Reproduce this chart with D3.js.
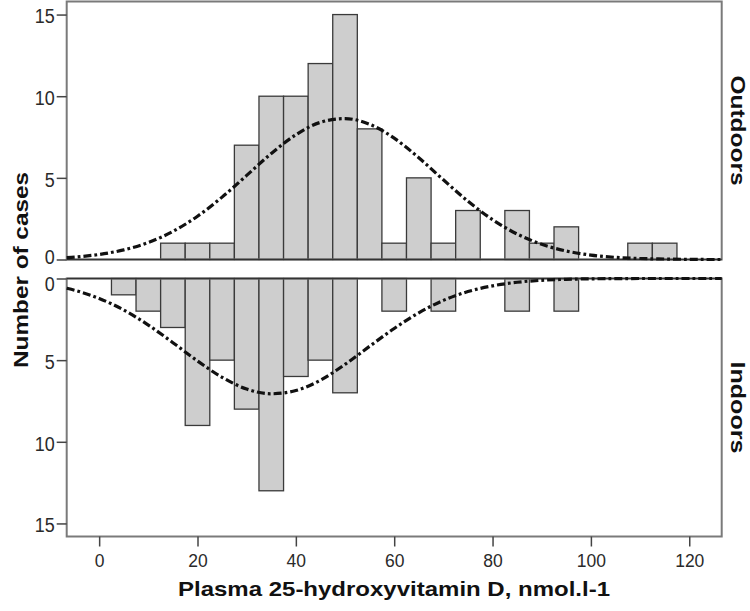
<!DOCTYPE html>
<html>
<head>
<meta charset="utf-8">
<script src="https://cdn.jsdelivr.net/npm/d3@7"></script>
<style>
  html, body { margin: 0; padding: 0; background: #fff; }
  svg { display: block; font-family: "Liberation Sans", Arial, sans-serif; }
</style>
</head>
<body>
<svg id="chart" width="750" height="611"></svg>
<script>
// ---------- data ----------
const binCenters = [5, 10, 15, 20, 25, 30, 35, 40, 45, 50, 55, 60, 65, 70, 75, 80, 85, 90, 95, 100, 105, 110, 115];
const outdoorsCounts = [0, 0, 1, 1, 1, 7, 10, 10, 12, 15, 8, 1, 5, 1, 3, 0, 3, 1, 2, 0, 0, 1, 1];
const indoorsCounts  = [1, 2, 3, 9, 5, 8, 13, 6, 5, 7, 0, 2, 0, 2, 0, 0, 2, 0, 2, 0, 0, 0, 0];
const binWidth = 5;

const curveX = [-6.6, -5, 0, 5, 10, 15, 20, 25, 30, 35, 40, 45, 50, 55, 60, 65, 70, 75, 80, 85, 90, 95, 100, 105, 110, 115, 120, 125, 126.6];
const outdoorsCurve = [0.12, 0.15, 0.31, 0.59, 1.04, 1.72, 2.65, 3.82, 5.15, 6.49, 7.64, 8.40, 8.63, 8.28, 7.43, 6.23, 4.88, 3.57, 2.44, 1.56, 0.93, 0.52, 0.27, 0.13, 0.06, 0.03, 0.01, 0.00, 0.00];
const indoorsCurve  = [0.60, 0.72, 1.22, 1.93, 2.85, 3.93, 5.05, 6.05, 6.77, 7.06, 6.86, 6.23, 5.26, 4.15, 3.06, 2.10, 1.34, 0.80, 0.45, 0.23, 0.11, 0.05, 0.02, 0.01, 0.00, 0.00, 0.00, 0.00, 0.00];

const xTicks = [0, 20, 40, 60, 80, 100, 120];
const yTicks = [0, 5, 10, 15];
const panelLabels = ["Outdoors", "Indoors"];
const xTitle = "Plasma 25-hydroxyvitamin D, nmol.l-1";
const yTitle = "Number of cases";

// ---------- layout ----------
const svg = d3.select("#chart");
const left = 66.7, right = 721.7;
const top1 = 1.5, base1 = 259.5;
const base2 = 278.5, bottom2 = 536.5;
const yMax = 15.8;

const x = d3.scaleLinear().domain([-6.6, 126.6]).range([left, right]);
const yTop = d3.scaleLinear().domain([0, yMax]).range([base1, top1]);
const yBot = d3.scaleLinear().domain([0, yMax]).range([base2, bottom2]);

const frameColor = "#7a7a7a";
const barFill = "#cecece";
const barStroke = "#3a3a3a";

function drawPanel(counts, curveVals, y, isTop) {
  const g = svg.append("g");
  const data = binCenters.map((c, i) => ({ c, v: counts[i] })).filter(d => d.v > 0);
  g.selectAll("rect.bar").data(data).enter().append("rect")
    .attr("class", "bar")
    .attr("x", d => x(d.c - binWidth / 2))
    .attr("width", d => x(d.c + binWidth / 2) - x(d.c - binWidth / 2))
    .attr("y", d => Math.min(y(0), y(d.v)))
    .attr("height", d => Math.abs(y(d.v) - y(0)))
    .attr("fill", barFill)
    .attr("stroke", barStroke)
    .attr("stroke-width", 1.3);

  // frame
  const y0 = y(0), y1 = y(yMax);
  g.append("rect")
    .attr("x", left).attr("y", Math.min(y0, y1))
    .attr("width", right - left).attr("height", Math.abs(y1 - y0))
    .attr("fill", "none").attr("stroke", frameColor).attr("stroke-width", 2);
  // zero baseline
  g.append("line")
    .attr("x1", left).attr("x2", right).attr("y1", y0).attr("y2", y0)
    .attr("stroke", "#333").attr("stroke-width", 1.6);

  // normal curve
  const line = d3.line()
    .x((d, i) => x(curveX[i]))
    .y(d => y(d))
    .curve(d3.curveMonotoneX);
  g.append("path")
    .attr("d", line(curveVals))
    .attr("fill", "none")
    .attr("stroke", "#111")
    .attr("stroke-width", 3.2)
    .attr("stroke-dasharray", "8,3,2.8,3");

  // y axis
  const ax = g.append("g")
    .attr("transform", `translate(${left},0)`)
    .call(d3.axisLeft(y).tickValues(yTicks).tickSize(10).tickPadding(2).tickFormat(d3.format("d")));
  ax.select(".domain").remove();
  ax.selectAll(".tick line").attr("stroke", "#444").attr("stroke-width", 1.5);
  ax.selectAll(".tick text")
    .attr("fill", "#2a2a2a")
    .style("font-size", "20px")
    .attr("textLength", d => String(d).length * 10)
    .attr("lengthAdjust", "spacingAndGlyphs")
    .attr("dy", d => d === 0 ? (isTop ? "0.2em" : "0.62em") : "0.42em");
}

drawPanel(outdoorsCounts, outdoorsCurve, yTop, true);
drawPanel(indoorsCounts, indoorsCurve, yBot, false);

// x axis
const xa = svg.append("g")
  .attr("transform", `translate(0,${bottom2})`)
  .call(d3.axisBottom(x).tickValues(xTicks).tickSize(10).tickPadding(8).tickFormat(d3.format("d")));
xa.select(".domain").remove();
xa.selectAll(".tick line").attr("stroke", "#444").attr("stroke-width", 1.5);
xa.selectAll(".tick text")
  .attr("fill", "#2a2a2a")
  .style("font-size", "17.5px");

// titles
svg.append("text")
  .attr("x", 394).attr("y", 596)
  .attr("text-anchor", "middle")
  .attr("font-weight", "bold")
  .style("font-size", "21px")
  .attr("textLength", 432).attr("lengthAdjust", "spacingAndGlyphs")
  .attr("fill", "#111")
  .text(xTitle);

svg.append("text")
  .attr("transform", "translate(28,270) rotate(-90)")
  .attr("text-anchor", "middle")
  .attr("font-weight", "bold")
  .style("font-size", "20px")
  .attr("textLength", 196).attr("lengthAdjust", "spacingAndGlyphs")
  .attr("fill", "#111")
  .text(yTitle);

const panelCenters = [(top1 + base1) / 2, (base2 + bottom2) / 2];
const panelLen = [110, 92];
panelLabels.forEach((lab, i) => {
  svg.append("text")
    .attr("transform", `translate(731,${panelCenters[i]}) rotate(90)`)
    .attr("text-anchor", "middle")
    .attr("font-weight", "bold")
    .style("font-size", "20px")
    .attr("textLength", panelLen[i]).attr("lengthAdjust", "spacingAndGlyphs")
    .attr("fill", "#111")
    .text(lab);
});
</script>
</body>
</html>
